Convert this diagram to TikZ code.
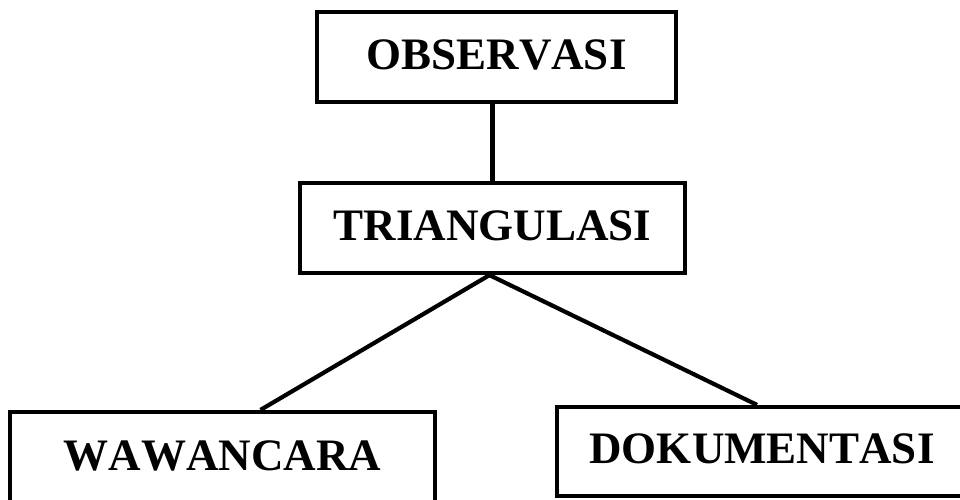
\documentclass[tikz,border=0pt]{standalone}
\usepackage{fontspec}
\setmainfont[Kerning=Off]{Liberation Serif}
\begin{document}
\begin{tikzpicture}[x=1pt,y=-1pt,line width=4.2pt,
  kotak/.style={draw,minimum height=90pt,text depth=5pt,inner sep=0pt,
    font=\bfseries\fontsize{45}{50}\selectfont}]
  \useasboundingbox (0,0) rectangle (960,499);
  \clip (0,0) rectangle (960,499);
  \node[kotak,minimum width=359pt] (obs) at (496.5,57) {OBSERVASI};
  \node[kotak,minimum width=385pt] (tri) at (492.5,228) {TRIANGULASI};
  \node[kotak,minimum width=425pt,minimum height=92pt] (waw) at (222.5,458) {WAWANCARA};
  \node[kotak,minimum width=410pt,minimum height=89pt] (dok) at (762,451.5) {DOKUMENTASI};

  \draw (tri.north) -- (tri.north |- obs.south);
  \draw ([xshift=-3pt]tri.south) -- ([xshift=38pt]waw.north);
  \draw ([xshift=-3pt]tri.south) -- ([xshift=-5pt]dok.north);
\end{tikzpicture}
\end{document}
